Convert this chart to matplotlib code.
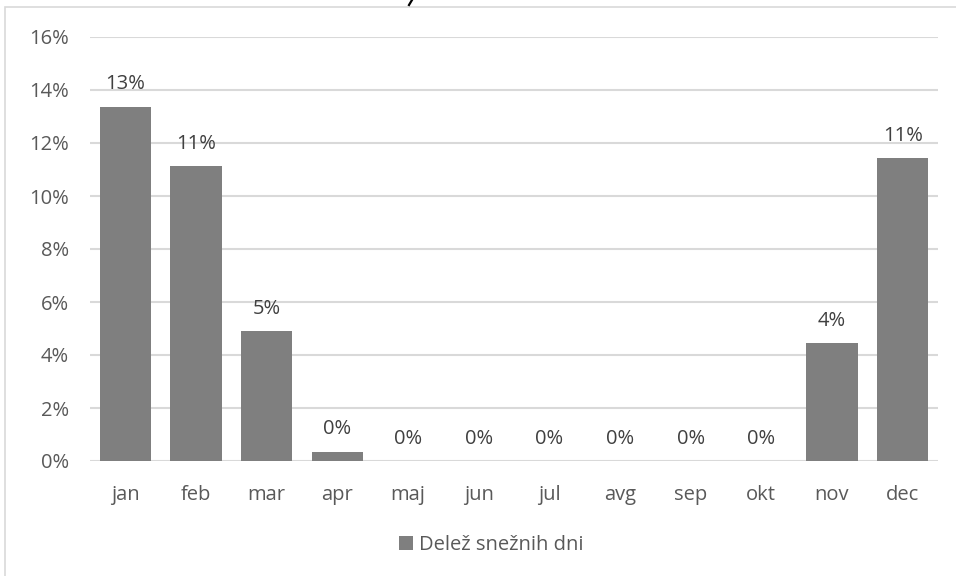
import matplotlib
matplotlib.use("Agg")
import matplotlib.pyplot as plt
from matplotlib.patches import Rectangle
from matplotlib.lines import Line2D
import numpy as np

months = ["jan", "feb", "mar", "apr", "maj", "jun", "jul", "avg", "sep", "okt", "nov", "dec"]
values = [0.1336, 0.1112, 0.0490, 0.0034, 0.0, 0.0, 0.0, 0.0, 0.0, 0.0, 0.0445, 0.1142]
yticks = [0.00, 0.02, 0.04, 0.06, 0.08, 0.10, 0.12, 0.14, 0.16]
series_name = "Delež snežnih dni"

plt.rcParams['font.family'] = ['Open Sans', 'DejaVu Sans']
FS = 14.5

W, H = 956, 576
fig = plt.figure(figsize=(W/100, H/100), dpi=100)

# chart border (only top and left visible)
fig.patches.append(Rectangle((5/W, -0.1), 1.2, 1 - 7/H + 0.1, transform=fig.transFigure,
                             fill=False, edgecolor="#D9D9D9", linewidth=1.2))
# remnant of the cut-off title (descender stroke)
fig.lines.append(Line2D([409/W, 412/W], [1 - 5/H, 1.0], transform=fig.transFigure,
                        color="black", linewidth=1.6))

ax = fig.add_axes([90/W, 1 - 461/H, (938-90)/W, (461-37)/H])
x = np.arange(len(months))
bars = ax.bar(x, values, width=0.73, color="#7F7F7F", zorder=3, label=series_name)
ax.set_xlim(-0.5, len(months) - 0.5)
ax.set_ylim(0, 0.16)
ax.set_yticks(yticks)
ax.set_yticklabels([f"{int(round(t*100))}%" for t in yticks])
ax.set_xticks(x)
ax.set_xticklabels(months)
for s in ax.spines.values():
    s.set_visible(False)
ax.grid(axis="y", color="#D9D9D9", linewidth=1.5, zorder=0)
ax.tick_params(axis="both", length=0, labelsize=FS, colors="#595959")
ax.tick_params(axis="y", pad=15)
ax.tick_params(axis="x", pad=17)

for xi, v in zip(x, values):
    ax.annotate(f"{int(round(v*100))}%", (xi, v), xytext=(0, 9), textcoords="offset points",
                ha="center", va="bottom", fontsize=FS, color="#404040")

leg = fig.legend(handles=[bars], labels=[series_name], loc="center",
                 bbox_to_anchor=(491/W, 1 - 545/H), frameon=False, fontsize=FS,
                 handlelength=0.7, handleheight=0.7, handletextpad=0.3)
for t in leg.get_texts():
    t.set_color("#595959")

fig.savefig("out.png", dpi=100)
